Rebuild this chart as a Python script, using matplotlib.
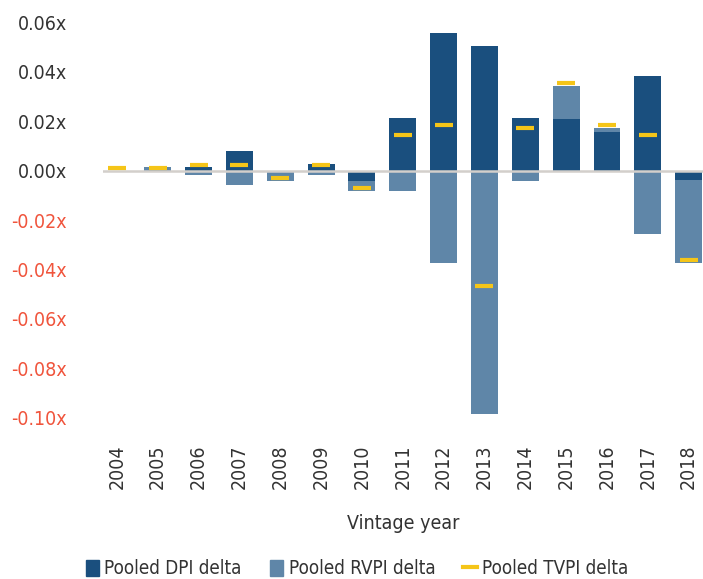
import numpy as np
import matplotlib
matplotlib.use("Agg")
import matplotlib.pyplot as plt
from matplotlib.lines import Line2D
from matplotlib.patches import Patch

plt.rcParams['font.family'] = ['DejaVu Sans']
plt.rcParams['font.stretch'] = 'condensed'

years = [str(y) for y in range(2004, 2019)]
dpi = [0.0, 0.0, 0.0015, 0.0080, 0.0, 0.0027, -0.0042, 0.0213, 0.0557, 0.0505,
       0.0213, 0.0209, 0.0157, 0.0383, -0.0038]
rvpi = [0.0, 0.0015, -0.0018, -0.0058, -0.0042, -0.0018, -0.0041, -0.0082, -0.0374, -0.0985,
        -0.0042, 0.0134, 0.0016, -0.0256, -0.0336]
tvpi = [0.0012, 0.0012, 0.0024, 0.0023, -0.0028, 0.0023, -0.0070, 0.0145, 0.0185, -0.0467,
        0.0173, 0.0355, 0.0185, 0.0145, -0.0362]
yticks = [0.06, 0.04, 0.02, 0.0, -0.02, -0.04, -0.06, -0.08, -0.10]

c_dpi = '#1a4f7e'
c_rvpi = '#5f86a8'
c_tvpi = '#f5c518'
c_zero = '#d3cfcb'

fig = plt.figure(figsize=(7.03, 5.79), dpi=100)
ax = fig.add_axes([103 / 703, 1 - 417.7 / 579, 1 - 103 / 703, (417.7 - 22.5) / 579])

x = np.arange(len(years))
dpi_a = np.array(dpi)
rvpi_a = np.array(rvpi)
# stack rvpi on dpi when both go the same way
bottom = np.where(np.sign(dpi_a) == np.sign(rvpi_a), dpi_a, 0.0)

w = 0.66
ax.bar(x, dpi_a, width=w, color=c_dpi, zorder=2)
ax.bar(x, rvpi_a, width=w, bottom=bottom, color=c_rvpi, zorder=2)
ax.axhline(0, color=c_zero, lw=1.8, zorder=3)
ax.plot(x, tvpi, linestyle='none', marker='_', markersize=13.5,
        markeredgewidth=3.0, color=c_tvpi, zorder=4)

ax.set_xlim(-0.34, 14.35)
ax.set_ylim(-0.10, 0.06)
ax.set_yticks(yticks)
ax.set_yticklabels([f"{v:.2f}x" for v in yticks])
for lab, v in zip(ax.get_yticklabels(), yticks):
    lab.set_color('#f0543c' if v < 0 else '#333333')
ax.tick_params(axis='y', length=0, labelsize=14, pad=26)

ax.set_xticks(x)
ax.set_xticklabels(years, rotation=90)
ax.tick_params(axis='x', length=0, labelsize=14, pad=19, labelcolor='#333333')
ax.set_xlabel('Vintage year', fontsize=14, color='#333333', labelpad=18)

for s in ax.spines.values():
    s.set_visible(False)

handles = [Patch(color=c_dpi), Patch(color=c_rvpi),
           Line2D([], [], color=c_tvpi, lw=3)]
labels = ['Pooled DPI delta', 'Pooled RVPI delta', 'Pooled TVPI delta']
fig.legend(handles, labels, loc='center', bbox_to_anchor=(0.508, 1 - 569 / 579),
           ncol=3, frameon=False, fontsize=13.5, handlelength=0.7, handleheight=0.9,
           handletextpad=0.3, columnspacing=1.5, labelcolor='#333333')

fig.savefig('out.png', dpi=100)
